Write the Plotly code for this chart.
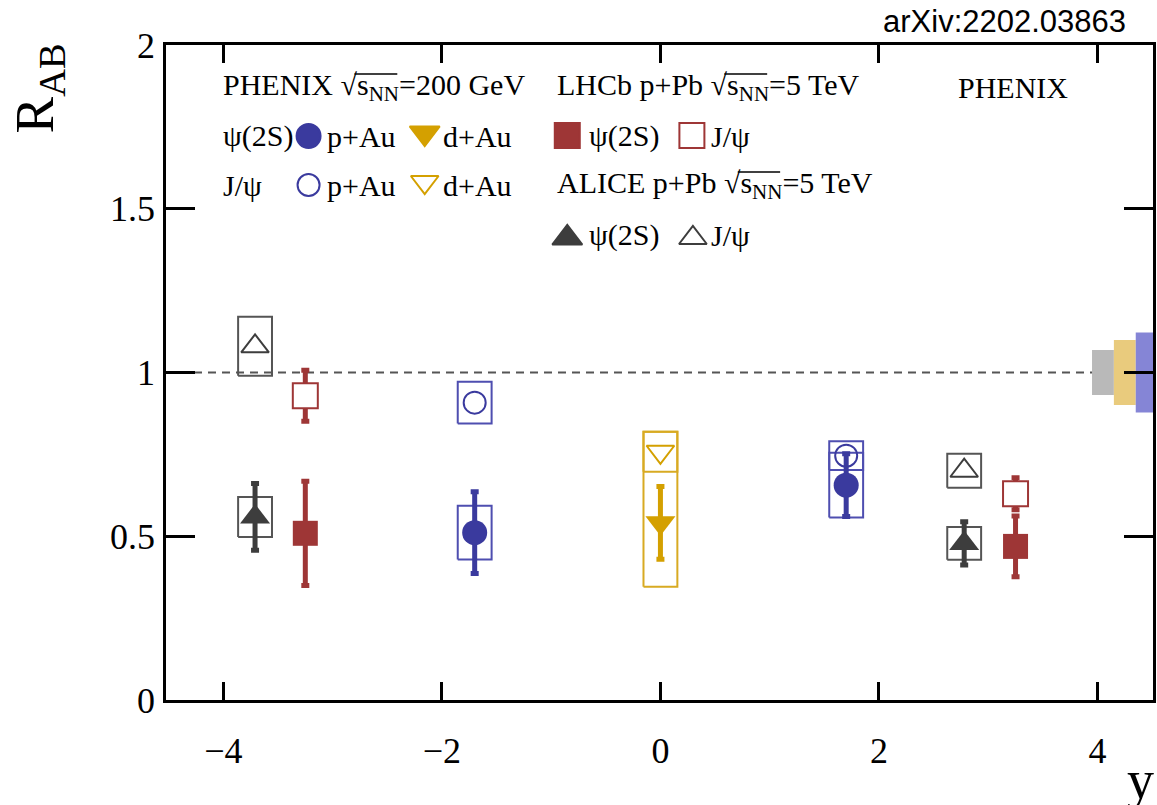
import plotly.graph_objects as go

# ---------------------------------------------------------------- data
# rapidity of each measurement
x_alice = [-3.71, 2.78]
x_lhcb = [-3.25, 3.25]
x_pau = [-1.70, 1.70]
x_dau = [0.0]

# ALICE p+Pb, sqrt(s_NN)=5 TeV
alice_jpsi = [1.08, 0.70]
alice_jpsi_syst = [0.09, 0.052]
alice_psi2s = [0.559, 0.478]
alice_psi2s_stat = [0.102, 0.066]
alice_psi2s_syst = [0.061, 0.05]

# LHCb p+Pb, sqrt(s_NN)=5 TeV (total uncertainty)
lhcb_jpsi = [0.929, 0.630]
lhcb_jpsi_err = [0.078, 0.049]
lhcb_psi2s = [0.509, 0.469]
lhcb_psi2s_err = [0.159, 0.093]

# PHENIX p+Au, sqrt(s_NN)=200 GeV
pau_jpsi = [0.908, 0.746]
pau_jpsi_syst = [0.064, 0.044]
pau_psi2s = [0.511, 0.656]
pau_psi2s_stat = [0.125, 0.096]
pau_psi2s_syst = [0.082, 0.099]

# PHENIX d+Au, sqrt(s_NN)=200 GeV
dau_jpsi = [0.758]
dau_jpsi_syst = [0.061]
dau_psi2s = [0.541]
dau_psi2s_stat = [0.111]
dau_psi2s_syst_hi = [0.278]
dau_psi2s_syst_lo = [0.195]

# global normalisation uncertainties: ALICE, PHENIX d+Au, PHENIX p+Au
global_unc = [0.069, 0.099, 0.122]

x_ticks = [-4, -2, 0, 2, 4]
y_ticks = [0, 0.5, 1, 1.5, 2]
y_ticktext = ["0", "0.5", "1", "1.5", "2"]

# ---------------------------------------------------------------- style
XMIN, XMAX = -4.525, 4.508
YMIN, YMAX = 0.0, 2.0
BOX_HW = 0.155
BAND_X0 = [3.95, 4.15, 4.35]
BAND_W = 0.2

C_PAU, C_PAU_BOX, C_PAU_BAND = "#3a3a9e", "#4e4eb0", "#8585d6"
C_DAU, C_DAU_BOX, C_DAU_BAND = "#d4a000", "#d8aa22", "#e9cb7d"
C_LHCB = "#9e3636"
C_ALICE, C_ALICE_BOX, C_ALICE_BAND = "#3d3d3d", "#555555", "#b9b9b9"

SERIF = "Liberation Serif"
ERR_T, ERR_W = 5, 4

# plot area in page pixels (used for the hand-made legend)
L_PX, R_PX, T_PX, B_PX = 166, 1156, 45, 700
W, H = 1157, 805


def box_path(xs, ys, hi, lo):
    px, py = [], []
    for x, y, h, l in zip(xs, ys, hi, lo):
        px += [x - BOX_HW, x + BOX_HW, x + BOX_HW, x - BOX_HW, x - BOX_HW, None]
        py += [y - l, y - l, y + h, y + h, y - l, None]
    return px, py


fig = go.Figure()

# reference line at R_AB = 1
fig.add_shape(type="line", x0=XMIN, x1=XMAX, y0=1, y1=1, layer="below",
              line=dict(color="#555555", width=2, dash="8px,6px"))

# global normalisation bands
for x0, g, col in zip(BAND_X0, global_unc, [C_ALICE_BAND, C_DAU_BAND, C_PAU_BAND]):
    fig.add_trace(go.Scatter(
        x=[x0, x0 + BAND_W, x0 + BAND_W, x0, x0],
        y=[1 - g, 1 - g, 1 + g, 1 + g, 1 - g],
        mode="lines", fill="toself", fillcolor=col,
        line=dict(width=0, color=col), showlegend=False, hoverinfo="skip"))

# systematic boxes
boxes = [
    (x_alice, alice_jpsi, alice_jpsi_syst, alice_jpsi_syst, C_ALICE_BOX),
    (x_alice, alice_psi2s, alice_psi2s_syst, alice_psi2s_syst, C_ALICE_BOX),
    (x_pau, pau_jpsi, pau_jpsi_syst, pau_jpsi_syst, C_PAU_BOX),
    (x_pau, pau_psi2s, pau_psi2s_syst, pau_psi2s_syst, C_PAU_BOX),
    (x_dau, dau_jpsi, dau_jpsi_syst, dau_jpsi_syst, C_DAU_BOX),
    (x_dau, dau_psi2s, dau_psi2s_syst_hi, dau_psi2s_syst_lo, C_DAU_BOX),
]
for xs, ys, hi, lo, col in boxes:
    bx, by = box_path(xs, ys, hi, lo)
    fig.add_trace(go.Scatter(x=bx, y=by, mode="lines",
                             line=dict(color=col, width=2),
                             showlegend=False, hoverinfo="skip"))


def err(arr, col):
    return dict(type="data", array=arr, color=col, thickness=ERR_T, width=ERR_W, visible=True)


# J/psi (open markers)
fig.add_trace(go.Scatter(x=x_alice, y=alice_jpsi, mode="markers", showlegend=False,
                         marker=dict(symbol="triangle-up-open", size=24, color=C_ALICE,
                                     line=dict(width=2, color=C_ALICE))))
fig.add_trace(go.Scatter(x=x_pau, y=pau_jpsi, mode="markers", showlegend=False,
                         marker=dict(symbol="circle-open", size=22, color=C_PAU,
                                     line=dict(width=2, color=C_PAU))))
fig.add_trace(go.Scatter(x=x_dau, y=dau_jpsi, mode="markers", showlegend=False,
                         marker=dict(symbol="triangle-down-open", size=24, color=C_DAU,
                                     line=dict(width=2, color=C_DAU))))
fig.add_trace(go.Scatter(x=x_lhcb, y=lhcb_jpsi, mode="markers", showlegend=False,
                         error_y=err(lhcb_jpsi_err, C_LHCB),
                         marker=dict(symbol="square", size=25, color="white",
                                     line=dict(width=2, color=C_LHCB))))

# psi(2S) (filled markers)
fig.add_trace(go.Scatter(x=x_alice, y=alice_psi2s, mode="markers", showlegend=False,
                         error_y=err(alice_psi2s_stat, C_ALICE),
                         marker=dict(symbol="triangle-up", size=26, color=C_ALICE)))
fig.add_trace(go.Scatter(x=x_lhcb, y=lhcb_psi2s, mode="markers", showlegend=False,
                         error_y=err(lhcb_psi2s_err, C_LHCB),
                         marker=dict(symbol="square", size=25, color=C_LHCB)))
fig.add_trace(go.Scatter(x=x_pau, y=pau_psi2s, mode="markers", showlegend=False,
                         error_y=err(pau_psi2s_stat, C_PAU),
                         marker=dict(symbol="circle", size=25, color=C_PAU)))
fig.add_trace(go.Scatter(x=x_dau, y=dau_psi2s, mode="markers", showlegend=False,
                         error_y=err(dau_psi2s_stat, C_DAU),
                         marker=dict(symbol="triangle-down", size=26, color=C_DAU)))

# ---------------------------------------------------------------- legend (pixel overlay)
leg_markers = [
    (309, 136, "circle", 24, C_PAU, C_PAU),
    (425.5, 133, "triangle-down", 26, C_DAU, C_DAU),
    (309, 185, "circle-open", 22, C_PAU, C_PAU),
    (425.5, 182, "triangle-down-open", 24, C_DAU, C_DAU),
    (568.5, 135.5, "square", 25, C_LHCB, C_LHCB),
    (693.5, 135.5, "square", 25, "white", C_LHCB),
    (568.5, 238, "triangle-up", 26, C_ALICE, C_ALICE),
    (694.5, 238, "triangle-up-open", 24, C_ALICE, C_ALICE),
]
for mx, my, sym, sz, fc, lc in leg_markers:
    fig.add_trace(go.Scatter(x=[mx], y=[my], xaxis="x2", yaxis="y2", mode="markers",
                             showlegend=False, hoverinfo="skip", cliponaxis=False,
                             marker=dict(symbol=sym, size=sz, color=fc,
                                         line=dict(width=2, color=lc))))

SQRT = "√s<sub>NN</sub>"
leg_texts = [
    (221, 87, "PHENIX " + SQRT + "=200 GeV"),
    (221, 136, "ψ(2S)"),
    (325, 136, "p+Au"),
    (442, 136, "d+Au"),
    (221, 185, "J/ψ"),
    (325, 185, "p+Au"),
    (442, 185, "d+Au"),
    (556, 87, "LHCb p+Pb " + SQRT + "=5 TeV"),
    (588, 136, "ψ(2S)"),
    (711, 136, "J/ψ"),
    (556, 185, "ALICE p+Pb " + SQRT + "=5 TeV"),
    (588, 235, "ψ(2S)"),
    (711, 235, "J/ψ"),
    (958, 87, "PHENIX"),
]
annotations = []
for tx, ty, txt in leg_texts:
    annotations.append(dict(x=tx, y=ty, xref="x2", yref="y2", text=txt, showarrow=False,
                            xanchor="left", yanchor="middle",
                            font=dict(family=SERIF, size=30, color="black")))

# vinculum of the square roots (from the radical to the end of the NN subscript)
for vx0, vx1, vy in [(355, 398, 74), (726, 769, 74), (739.5, 782, 172)]:
    fig.add_shape(type="line", xref="x2", yref="y2", x0=vx0, x1=vx1, y0=vy, y1=vy,
                  line=dict(color="black", width=1.5))


def paper(px, py):
    return (px - L_PX) / (R_PX - L_PX), (B_PX - py) / (B_PX - T_PX)


ax, ay = paper(39, 88)
annotations.append(dict(x=ax, y=ay, xref="paper", yref="paper", text="R<sub>AB</sub>",
                        textangle=-90, showarrow=False, xanchor="center", yanchor="middle",
                        font=dict(family=SERIF, size=55, color="black")))
ax, ay = paper(1143, 780)
annotations.append(dict(x=ax, y=ay, xref="paper", yref="paper", text="y",
                        showarrow=False, xanchor="center", yanchor="middle",
                        font=dict(family=SERIF, size=54, color="black")))
ax, ay = paper(1131, 22)
annotations.append(dict(x=ax, y=ay, xref="paper", yref="paper", text="arXiv:2202.03863",
                        showarrow=False, xanchor="right", yanchor="middle",
                        font=dict(family="Liberation Sans", size=31, color="black")))

axis_common = dict(showgrid=False, zeroline=False, showline=True, linecolor="black",
                   linewidth=2.5, ticks="inside", tickcolor="black", tickwidth=2.5,
                   mirror="ticks", tickfont=dict(family=SERIF, size=36, color="black"))

fig.update_layout(
    width=W, height=H,
    margin=dict(l=L_PX, r=W - R_PX, t=T_PX, b=H - B_PX, pad=0),
    paper_bgcolor="white", plot_bgcolor="white",
    showlegend=False,
    xaxis=dict(range=[XMIN, XMAX], tickvals=x_ticks, ticklen=18,
               ticklabelstandoff=17, **axis_common),
    yaxis=dict(range=[YMIN, YMAX], tickvals=y_ticks, ticktext=y_ticktext, ticklen=29,
               ticklabelstandoff=1, **axis_common),
    xaxis2=dict(range=[L_PX, R_PX], overlaying="x", visible=False),
    yaxis2=dict(range=[B_PX, T_PX], overlaying="y", visible=False),
    annotations=annotations,
)

fig.write_html("out.html")
